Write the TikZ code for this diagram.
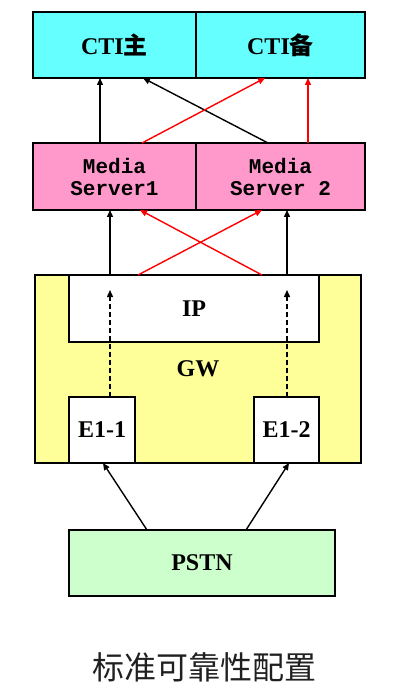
\documentclass[tikz,border=0pt]{standalone}
\usepackage{fontspec}
\setmainfont{Liberation Serif}
\setmonofont{Liberation Mono}
\newfontfamily\cjk{Noto Sans CJK SC}
\usetikzlibrary{arrows.meta}
\definecolor{ctiblue}{HTML}{66FFFF}
\definecolor{mspink}{HTML}{FF99CC}
\definecolor{gwyellow}{HTML}{FFFF99}
\definecolor{pstngreen}{HTML}{CCFFCC}
\definecolor{captiongray}{HTML}{202020}
\tikzset{
  unit/.style={draw=black,line width=1.5pt,inner sep=0pt,outer sep=0pt,align=center},
  cti/.style={unit,fill=ctiblue,minimum height=66pt},
  ms/.style={unit,fill=mspink,minimum height=67pt,
    font=\ttfamily\bfseries\fontsize{21}{22}\selectfont},
  port/.style={unit,fill=white,minimum width=66pt,minimum height=66pt},
  link/.style={-{Triangle[length=7pt,width=6pt]},line width=1.4pt},
  backup/.style={link,draw=red},
  tdm/.style={link,dash pattern=on 5pt off 3pt}
}
\begin{document}
\begin{tikzpicture}[x=1pt,y=-1pt,font=\bfseries\fontsize{24}{26}\selectfont]
  \useasboundingbox (0,0) rectangle (400,700);
  \node[cti,minimum width=163pt] (ctiA) at (114.5,45) {CTI{\cjk 主}};
  \node[cti,minimum width=169pt] (ctiB) at (280.5,45) {CTI{\cjk 备}};
  \node[ms,minimum width=163pt] (ms1) at (114.5,176.5) {Media\\Server1};
  \node[ms,minimum width=169pt] (ms2) at (280.5,176.5) {Media\\Server 2};
  \node[unit,fill=gwyellow,minimum width=326pt,minimum height=188pt] (gw) at (198,369) {GW};
  \node[unit,fill=white,minimum width=250pt,minimum height=67pt] (ip) at (194,308.5) {IP};
  \node[port] (e1a) at (102,430) {E1-1};
  \node[port,minimum width=65pt] (e1b) at (286.5,430) {E1-2};
  \node[unit,fill=pstngreen,minimum width=266pt,minimum height=66pt] (pstn) at (202,563) {PSTN};
  \node[font=\cjk\fontsize{32}{34}\selectfont,text=captiongray] (caption) at (204,667) {标准可靠性配置};

  \draw[link] ([xshift=-14.5pt]ms1.north) -- ([xshift=-14.5pt]ctiA.south);
  \draw[link] ([xshift=-12.5pt]ms2.north) -- ([xshift=28.5pt]ctiA.south);
  \draw[backup] ([xshift=27.5pt]ms1.north) -- ([xshift=-15.5pt]ctiB.south);
  \draw[backup] ([xshift=27.5pt]ms2.north) -- ([xshift=27.5pt]ctiB.south);

  \draw[link] ([xshift=-84pt]ip.north) -- ([xshift=-4.5pt]ms1.south);
  \draw[link] ([xshift=93pt]ip.north) -- ([xshift=6.5pt]ms2.south);
  \draw[backup] ([xshift=-56pt]ip.north) -- ([xshift=-18.5pt]ms2.south);
  \draw[backup] ([xshift=68pt]ip.north) -- ([xshift=25.5pt]ms1.south);

  \draw[tdm] ([xshift=8pt]e1a.north) -- ([xshift=-84pt,yshift=-15pt]ip.north);
  \draw[tdm] ([xshift=0.5pt]e1b.north) -- ([xshift=93pt,yshift=-15pt]ip.north);

  \draw[link] ([xshift=-55pt]pstn.north) -- ([xshift=1pt]e1a.south);
  \draw[link] ([xshift=44pt]pstn.north) -- ([xshift=2.5pt]e1b.south);
\end{tikzpicture}
\end{document}
